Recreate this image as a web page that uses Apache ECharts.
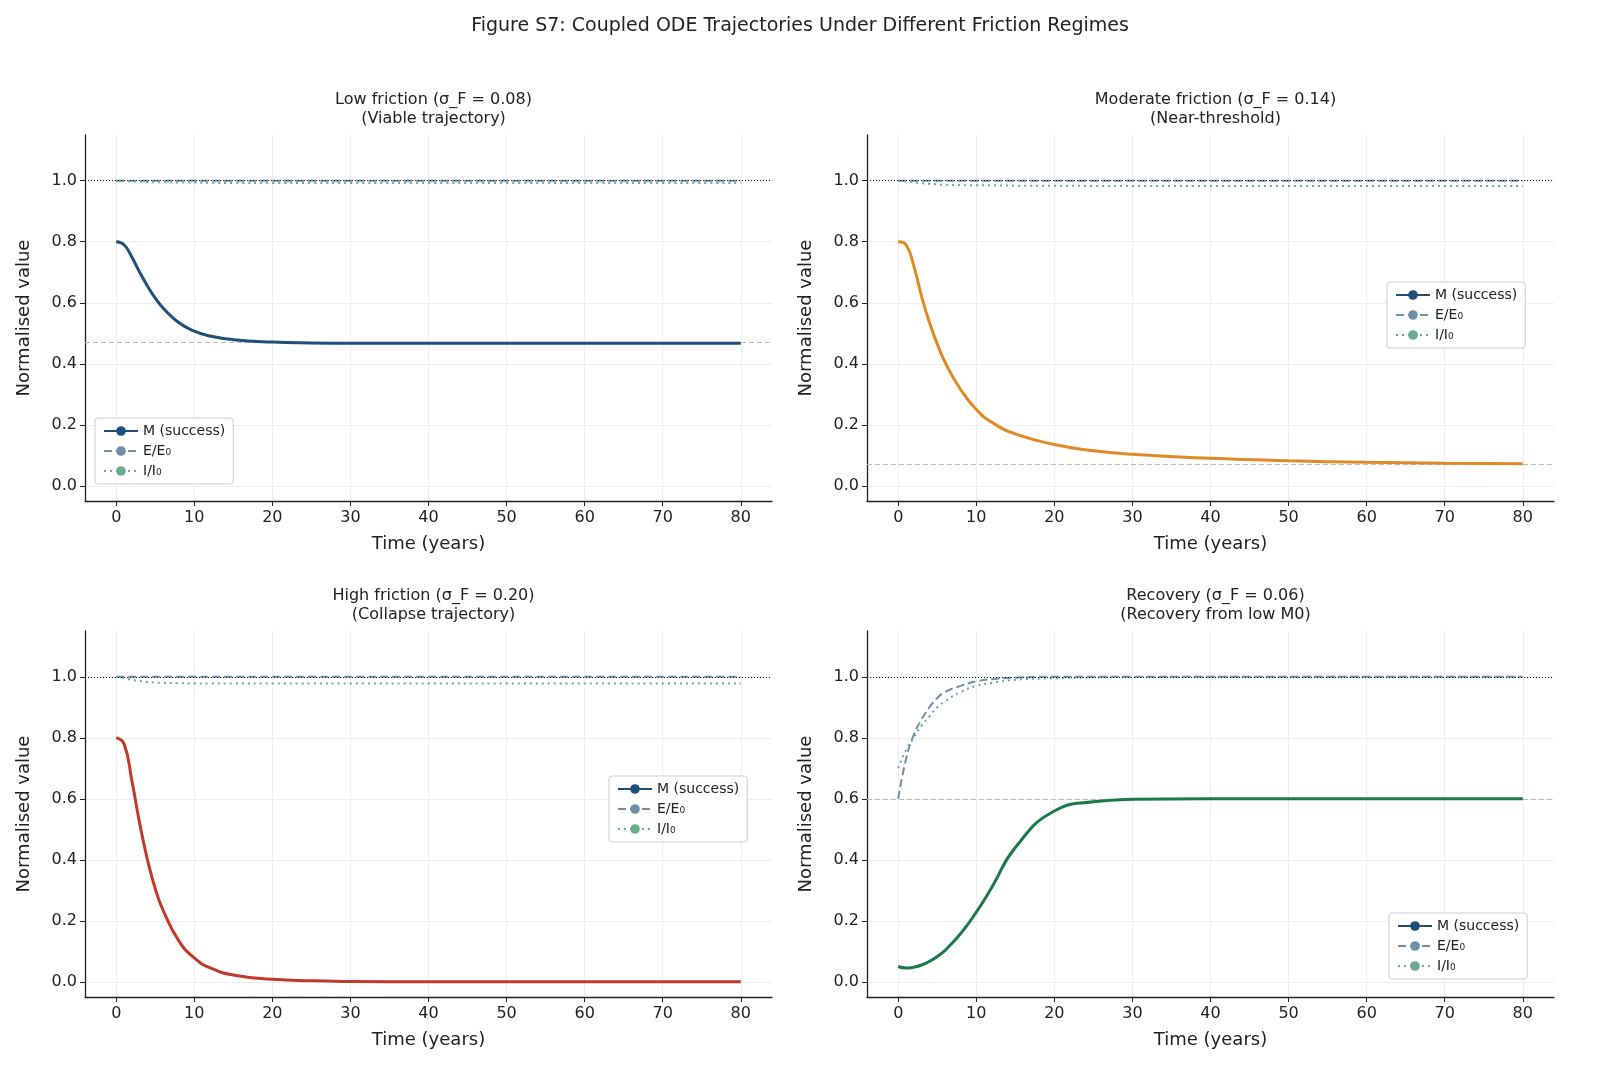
<!DOCTYPE html>
<html><head><meta charset="utf-8">
<script src="https://cdn.jsdelivr.net/npm/echarts@6/dist/echarts.min.js"></script>
<style>body{margin:0;background:#fff}#c{width:1600px;height:1092px}</style>
</head><body><div id="c"></div>
<script>
// time samples (years)
var times = [0,1,2,3,4,5,6,8,10,12,15,20,25,30,40,50,60,70,80];
var xTicks = [0,10,20,30,40,50,60,70,80];
var yTicks = [0,0.2,0.4,0.6,0.8,1.0];

var mLow  = [0.80,0.79,0.75,0.70,0.655,0.615,0.583,0.535,0.507,0.491,0.479,0.471,0.468,0.467,0.467,0.467,0.467,0.467,0.467];
var iLow  = [1.0,0.999,0.998,0.997,0.996,0.995,0.995,0.994,0.994,0.993,0.993,0.993,0.993,0.993,0.993,0.993,0.993,0.993,0.993];
var mMod  = [0.80,0.79,0.72,0.62,0.535,0.465,0.405,0.315,0.25,0.208,0.17,0.135,0.115,0.103,0.09,0.082,0.077,0.074,0.072];
var iMod  = [1.0,0.998,0.995,0.992,0.99,0.988,0.987,0.986,0.985,0.985,0.984,0.984,0.983,0.983,0.983,0.983,0.983,0.983,0.983];
var mHigh = [0.80,0.78,0.66,0.52,0.40,0.305,0.235,0.135,0.078,0.046,0.022,0.008,0.003,0.001,0,0,0,0,0];
var iHigh = [1.0,0.995,0.99,0.986,0.983,0.981,0.98,0.979,0.978,0.978,0.978,0.978,0.978,0.978,0.978,0.978,0.978,0.978,0.978];
var mRec  = [0.05,0.045,0.048,0.055,0.067,0.083,0.103,0.158,0.228,0.31,0.44,0.56,0.59,0.598,0.6,0.6,0.6,0.6,0.6];
var eRec  = [0.6,0.73,0.81,0.86,0.90,0.93,0.95,0.97,0.985,0.992,0.997,1.0,1.0,1.0,1.0,1.0,1.0,1.0,1.0];
var iRec  = [0.70,0.76,0.80,0.84,0.87,0.90,0.92,0.95,0.97,0.98,0.99,0.995,0.998,0.999,1.0,1.0,1.0,1.0,1.0];
var ones  = times.map(function(){return 1.0;});

var panels = [
  {t:'Low friction (σ_F = 0.08)\n(Viable trajectory)', m:mLow, e:ones, i:iLow, col:'#1f4e79', eq:0.467, lg:{left:95,top:418}},
  {t:'Moderate friction (σ_F = 0.14)\n(Near-threshold)', m:mMod, e:ones, i:iMod, col:'#e08a25', eq:0.072, lg:{left:1387,top:282}},
  {t:'High friction (σ_F = 0.20)\n(Collapse trajectory)', m:mHigh, e:ones, i:iHigh, col:'#c0392b', eq:null, lg:{left:609,top:776}},
  {t:'Recovery (σ_F = 0.06)\n(Recovery from low M0)', m:mRec, e:eRec, i:iRec, col:'#1b7a4a', eq:0.6, lg:{left:1389,top:913}}
];
var grids = [
  {left:85,top:135,width:687,height:366},
  {left:867,top:135,width:687,height:366},
  {left:85,top:631,width:687,height:366},
  {left:867,top:631,width:687,height:366}
];

function pairs(arr){ return times.map(function(t,k){return [t,arr[k]];}); }

var option = {
  animation:false,
  textStyle:{fontFamily:'DejaVu Sans'},
  title:[{text:'Figure S7: Coupled ODE Trajectories Under Different Friction Regimes',left:'center',top:12,
          textStyle:{fontSize:19,fontWeight:'normal',color:'#222'}}],
  grid:grids, xAxis:[], yAxis:[], series:[], legend:[]
};
panels.forEach(function(p,k){
  var g = grids[k];
  option.title.push({text:p.t,left:g.left+g.width/2,textAlign:'center',top:g.top-50,
    textStyle:{fontSize:16,fontWeight:'normal',color:'#222',lineHeight:19}});
  option.xAxis.push({type:'value',gridIndex:k,min:-4,max:84,name:'Time (years)',nameLocation:'middle',nameGap:34,
    nameTextStyle:{fontSize:18,color:'#222'},
    axisLine:{onZero:false,lineStyle:{color:'#222',width:1.3}},
    axisTick:{customValues:xTicks,length:5,lineStyle:{color:'#222'}},
    axisLabel:{customValues:xTicks,fontSize:16,color:'#222',margin:9},
    splitLine:{show:true,lineStyle:{color:'#eee'}}});
  option.yAxis.push({type:'value',gridIndex:k,min:-0.05,max:1.15,name:'Normalised value',nameLocation:'middle',nameGap:52,
    nameTextStyle:{fontSize:18,color:'#222'},
    axisLine:{show:true,onZero:false,lineStyle:{color:'#222',width:1.3}},
    axisTick:{show:true,customValues:yTicks,length:5,lineStyle:{color:'#222'}},
    axisLabel:{customValues:yTicks,fontSize:16,color:'#222',formatter:function(v){return v.toFixed(1);}},
    splitLine:{show:true,lineStyle:{color:'#eee'}}});
  var ml = [{yAxis:1.0,lineStyle:{color:'#111',type:[1,2],width:1.2}}];
  if(p.eq!==null) ml.push({yAxis:p.eq,lineStyle:{color:'#bbb',type:[5,3],width:1}});
  option.series.push({type:'line',name:'M (success)',xAxisIndex:k,yAxisIndex:k,data:pairs(p.m),smooth:0.5,symbol:'none',
    lineStyle:{color:p.col,width:3},itemStyle:{color:p.col},z:5,
    markLine:{silent:true,symbol:'none',label:{show:false},data:ml}});
  option.series.push({type:'line',name:'E/E₀',xAxisIndex:k,yAxisIndex:k,data:pairs(p.e),smooth:0.5,symbol:'none',
    lineStyle:{color:'#6f8fa8',width:2,type:[8,4]},itemStyle:{color:'#6f8fa8'}});
  option.series.push({type:'line',name:'I/I₀',xAxisIndex:k,yAxisIndex:k,data:pairs(p.i),smooth:0.5,symbol:'none',
    lineStyle:{color:'#6aaa8e',width:2,type:[2,4]},itemStyle:{color:'#6aaa8e'}});
  option.legend.push({orient:'vertical',left:p.lg.left,top:p.lg.top,
    data:['M (success)','E/E₀','I/I₀'],
    backgroundColor:'#fff',borderColor:'#ccc',borderWidth:1,borderRadius:3,padding:[6,8],itemGap:6,
    itemWidth:34,itemHeight:12,textStyle:{fontSize:14,color:'#222'},selectedMode:false});
});
var chart = echarts.init(document.getElementById('c'));
chart.setOption(option);
</script></body></html>
